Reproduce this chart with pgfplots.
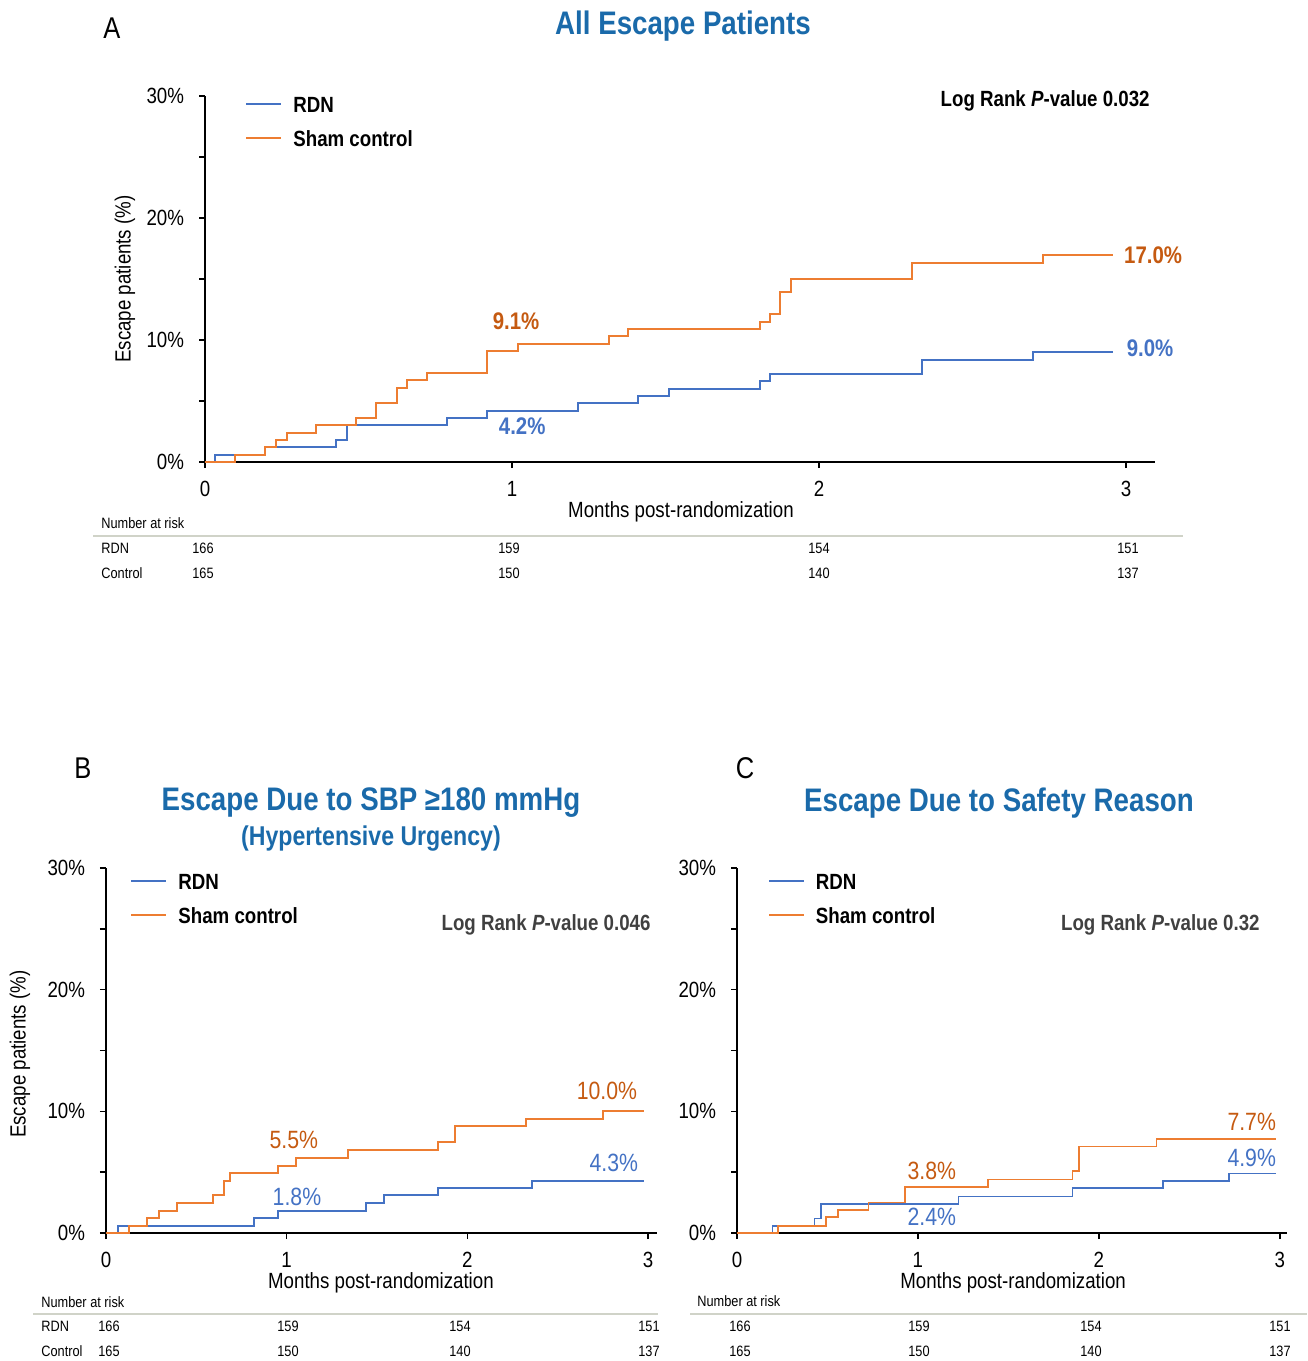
\documentclass[border=0pt]{standalone}
\usepackage{fontspec}
\setmainfont{Liberation Sans}[FakeStretch=0.85]
\usepackage{pgfplots}
\pgfplotsset{compat=1.18}
\definecolor{rdn}{HTML}{4472C4}
\definecolor{sham}{HTML}{ED7D31}
\definecolor{shamlab}{HTML}{C55A11}
\definecolor{ttl}{HTML}{1A6AAA}
\definecolor{lr}{HTML}{404040}
\definecolor{riskline}{HTML}{D0D3C8}
\pgfplotsset{kmstyle/.style={
  scale only axis, axis lines=left, axis line style={-, line width=0.9pt},
  xmin=0, ymin=0, ymax=30,
  xtick={0,1,2,3}, ytick={0,5,10,15,20,25,30},
  yticklabels={0\%,,10\%,,20\%,,30\%},
  tick align=outside, major tick length=3pt, tick style={black, line width=0.8pt},
  ticklabel style={font=\fontsize{11}{13}\selectfont},
  /pgf/number format/assume math mode=true,
  xticklabel style={yshift=-3pt},
  yticklabel style={xshift=-4pt},
  label style={font=\fontsize{11}{13}\selectfont},
  clip=false,
  legend style={draw=none, fill=none, font=\bfseries\fontsize{11}{13}\selectfont,
    anchor=north west, inner sep=0pt, row sep=7pt, column sep=4.5pt,
    nodes={inner sep=1pt, text height=8pt, text depth=0pt}},
  legend cell align=left,
  legend image code/.code={\draw[#1] (0pt,0pt) -- (17.5pt,0pt);},
  const plot,
}}
\begin{document}
\begin{tikzpicture}
% ---------------- Panel A ----------------
\begin{axis}[kmstyle, at={(102.5pt,-231pt)}, anchor=south west,
  width=475pt, height=183pt, xmax=3.094,
  ylabel={Escape patients (\%)},
  ylabel style={at={(axis description cs:-0.0842,0.5)}, anchor=center},
  xlabel={Months post-randomization},
  xlabel style={at={(axis description cs:0.501,0)}, anchor=center, yshift=-25pt},
  legend style={at={(axis description cs:0.0421,1.0055)}}]
\addplot[rdn, line width=1pt] coordinates {(0,0)(0.033,0.6)(0.195,1.2)(0.427,1.8)(0.461,3.0)(0.789,3.6)(0.920,4.2)(1.216,4.8)(1.411,5.4)(1.512,6.0)(1.809,6.6)(1.841,7.2)(2.335,8.4)(2.696,9.0)(2.958,9.0)};
\addlegendentry{RDN}
\addplot[sham, line width=1pt] coordinates {(0,0)(0.098,0.6)(0.195,1.2)(0.231,1.8)(0.266,2.4)(0.362,3.0)(0.492,3.6)(0.557,4.8)(0.624,6.1)(0.657,6.7)(0.722,7.3)(0.920,9.1)(1.021,9.7)(1.316,10.3)(1.379,10.9)(1.809,11.5)(1.841,12.1)(1.874,13.9)(1.907,15.0)(2.302,16.3)(2.729,17.0)(2.958,17.0)};
\addlegendentry{Sham control}
\node[anchor=east, inner sep=0pt, font=\bfseries\fontsize{11}{13}\selectfont] at (axis description cs:0.9947,0.986) {Log Rank \textit{P}-value 0.032};
\node[shamlab, font=\bfseries\fontsize{12}{14}\selectfont] at (axis cs:1.013,11.56) {9.1\%};
\node[rdn, font=\bfseries\fontsize{12}{14}\selectfont] at (axis cs:1.033,2.95) {4.2\%};
\node[shamlab, font=\bfseries\fontsize{12}{14}\selectfont] at (axis cs:3.088,16.97) {17.0\%};
\node[rdn, font=\bfseries\fontsize{12}{14}\selectfont] at (axis cs:3.078,9.34) {9.0\%};
\end{axis}
% ---------------- Panel B ----------------
\begin{axis}[kmstyle, at={(53pt,-616.5pt)}, anchor=south west,
  width=275.5pt, height=182.5pt, xmax=3.05,
  ylabel={Escape patients (\%)},
  ylabel style={at={(axis description cs:-0.156,0.49)}, anchor=center},
  xlabel={Months post-randomization},
  xlabel style={at={(axis description cs:0.499,0)}, anchor=center, yshift=-25pt},
  legend style={at={(axis description cs:0.0436,0.992)}}]
\addplot[rdn, line width=1pt] coordinates {(0,0)(0.065,0.6)(0.819,1.2)(0.951,1.8)(1.44,2.5)(1.54,3.1)(1.835,3.7)(2.358,4.3)(2.98,4.3)};
\addlegendentry{RDN}
\addplot[sham, line width=1pt] coordinates {(0,0)(0.128,0.6)(0.227,1.2)(0.292,1.8)(0.395,2.5)(0.592,3.1)(0.655,4.3)(0.687,4.9)(0.951,5.5)(1.05,6.2)(1.342,6.8)(1.835,7.5)(1.93,8.8)(2.325,9.4)(2.753,10.0)(2.98,10.0)};
\addlegendentry{Sham control}
\node[anchor=east, inner sep=0pt, lr, font=\bfseries\fontsize{11}{13}\selectfont] at (axis description cs:0.989,0.844) {Log Rank \textit{P}-value 0.046};
\node[shamlab, font=\fontsize{12.5}{14}\selectfont] at (axis cs:1.04,7.64) {5.5\%};
\node[rdn, font=\fontsize{12.5}{14}\selectfont] at (axis cs:1.057,2.96) {1.8\%};
\node[shamlab, font=\fontsize{12.5}{14}\selectfont] at (axis cs:2.773,11.67) {10.0\%};
\node[rdn, font=\fontsize{12.5}{14}\selectfont] at (axis cs:2.811,5.75) {4.3\%};
\end{axis}
% ---------------- Panel C ----------------
\begin{axis}[kmstyle, at={(368.5pt,-616.5pt)}, anchor=south west,
  width=275pt, height=182.5pt, xmax=3.04,
  xlabel={Months post-randomization},
  xlabel style={at={(axis description cs:0.502,0)}, anchor=center, yshift=-25pt},
  legend style={at={(axis description cs:0.056,0.992)}}]
\addplot[rdn, line width=0.85pt] coordinates {(0,0)(0.197,0.6)(0.428,1.2)(0.464,2.4)(1.224,3.0)(1.855,3.7)(2.354,4.3)(2.718,4.9)(2.98,4.9)};
\addlegendentry{RDN}
\addplot[sham, line width=0.85pt] coordinates {(0,0)(0.227,0.6)(0.493,1.3)(0.558,1.9)(0.726,2.5)(0.928,3.8)(1.387,4.4)(1.855,5.1)(1.889,7.1)(2.319,7.7)(2.98,7.7)};
\addlegendentry{Sham control}
\node[anchor=east, inner sep=0pt, lr, font=\bfseries\fontsize{11}{13}\selectfont] at (axis description cs:0.951,0.844) {Log Rank \textit{P}-value 0.32};
\node[shamlab, font=\fontsize{12.5}{14}\selectfont] at (axis cs:1.077,5.09) {3.8\%};
\node[rdn, font=\fontsize{12.5}{14}\selectfont] at (axis cs:1.077,1.31) {2.4\%};
\node[shamlab, font=\fontsize{12.5}{14}\selectfont] at (axis cs:2.845,9.12) {7.7\%};
\node[rdn, font=\fontsize{12.5}{14}\selectfont] at (axis cs:2.845,6.16) {4.9\%};
\end{axis}
% ---------------- annotations in pixel units ----------------
\begin{scope}[x=0.5pt,y=-0.5pt]
\path (0,0) rectangle (1307,1361);
\node[font=\fontsize{15}{17}\selectfont] at (112,28) {A};
\node[font=\fontsize{15}{17}\selectfont] at (83,768) {B};
\node[font=\fontsize{15}{17}\selectfont] at (745,768) {C};
\node[ttl, font=\bfseries\fontsize{16.3}{19}\selectfont] at (683,26) {All Escape Patients};
\node[ttl, font=\bfseries\fontsize{16.3}{19}\selectfont] at (371,803) {Escape Due to SBP ≥180 mmHg};
\node[ttl, font=\bfseries\fontsize{13.6}{16}\selectfont] at (371,839) {(Hypertensive Urgency)};
\node[ttl, font=\bfseries\fontsize{16.3}{19}\selectfont] at (999,803) {Escape Due to Safety Reason};
\begin{scope}[every node/.style={font=\fontsize{7.5}{9}\selectfont, inner sep=0pt}]
% risk table A
\draw[riskline, line width=0.7pt] (93,536) -- (1183,536);
\node[anchor=west] at (101,523) {Number at risk};
\node[anchor=west] at (101,548) {RDN};
\node[anchor=west] at (101,573) {Control};
\node at (203,548) {166}; \node at (509,548) {159}; \node at (819,548) {154}; \node at (1128,548) {151};
\node at (203,573) {165}; \node at (509,573) {150}; \node at (819,573) {140}; \node at (1128,573) {137};
% risk table B
\draw[riskline, line width=0.7pt] (33,1314) -- (658,1314);
\node[anchor=west] at (41,1302) {Number at risk};
\node[anchor=west] at (41,1326) {RDN};
\node[anchor=west] at (41,1351) {Control};
\node at (109,1326) {166}; \node at (288,1326) {159}; \node at (460,1326) {154}; \node at (649,1326) {151};
\node at (109,1351) {165}; \node at (288,1351) {150}; \node at (460,1351) {140}; \node at (649,1351) {137};
% risk table C
\draw[riskline, line width=0.7pt] (690,1314) -- (1307,1314);
\node[anchor=west] at (697,1301) {Number at risk};
\node at (740,1326) {166}; \node at (919,1326) {159}; \node at (1091,1326) {154}; \node at (1280,1326) {151};
\node at (740,1351) {165}; \node at (919,1351) {150}; \node at (1091,1351) {140}; \node at (1280,1351) {137};
\end{scope}
\end{scope}
\end{tikzpicture}
\end{document}
